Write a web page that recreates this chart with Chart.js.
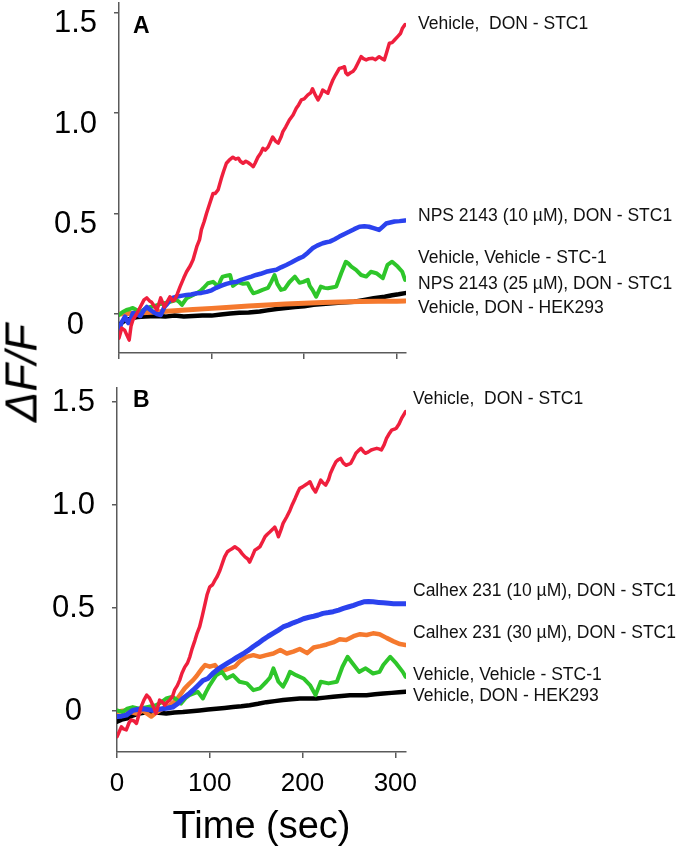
<!DOCTYPE html>
<html>
<head>
<meta charset="utf-8">
<script src="https://cdn.jsdelivr.net/npm/chart.js@4/dist/chart.umd.min.js"></script>
<style>
html,body{margin:0;padding:0;background:#fff;width:679px;height:853px;overflow:hidden;position:relative;font-family:"Liberation Sans",Arial,sans-serif;}
canvas{position:absolute;left:0;}
#cA{top:0;}
#cB{top:370px;}
.lbl{position:absolute;font-size:17.5px;line-height:20px;white-space:pre;color:#111;}
.panel{position:absolute;font-weight:bold;font-size:23px;line-height:26px;color:#000;}
#ytitle{position:absolute;font-style:italic;font-size:45px;line-height:1;left:21px;top:373px;transform:translate(-50%,-50%) rotate(-90deg);white-space:nowrap;color:#000;}
</style>
</head>
<body>
<canvas id="cA" width="679" height="362"></canvas>
<canvas id="cB" width="679" height="483"></canvas>
<div class="panel" style="left:133px;top:12px;">A</div>
<div class="panel" style="left:133px;top:386px;">B</div>
<div id="ytitle">ΔF/F</div>
<div id="labels"></div>
<script>
// ---------- tick values / labels ----------
const yTickValues = [0, 0.5, 1, 1.5];
const yTickLabels = ['0', '0.5', '1.0', '1.5'];
const xTickValues = [0, 100, 200, 300];
const xTickLabels = ['0', '100', '200', '300'];

// ---------- series labels ----------
const labelsA = ['Vehicle,  DON - STC1', 'NPS 2143 (10 µM), DON - STC1', 'Vehicle, Vehicle - STC-1', 'NPS 2143 (25 µM), DON - STC1', 'Vehicle, DON - HEK293'];
const labelsB = ['Vehicle,  DON - STC1', 'Calhex 231 (10 µM), DON - STC1', 'Calhex 231 (30 µM), DON - STC1', 'Vehicle, Vehicle - STC-1', 'Vehicle, DON - HEK293'];

// ---------- Panel A data: [time (sec), dF/F] ----------
const redA = [[0,-0.12],[3,-0.07],[6,-0.08],[9,-0.11],[11,-0.13],[13,-0.06],[15,-0.03],[19,0.0],[23,0.035],[27,0.07],[30,0.08],[33,0.065],[35,0.06],[38,0.04],[41,0.02],[45,0.08],[49,0.035],[52,0.06],[55,0.086],[58,0.065],[60,0.07],[63,0.1],[66,0.136],[70,0.18],[73,0.21],[77,0.24],[80,0.27],[84,0.335],[87,0.37],[89,0.42],[92,0.46],[94.5,0.5],[98,0.55],[101.6,0.6],[104,0.6],[107,0.617],[110.6,0.675],[113,0.71],[116,0.75],[119,0.765],[123,0.78],[126,0.77],[129,0.775],[131,0.76],[134,0.75],[137,0.76],[139,0.755],[142,0.745],[145,0.733],[147,0.75],[150,0.78],[153,0.8],[155.5,0.824],[158,0.815],[161,0.83],[163,0.85],[166,0.88],[169,0.86],[172,0.85],[175,0.88],[177,0.907],[180,0.93],[184,0.965],[188,0.99],[191.5,1.023],[194,1.04],[197,1.065],[200,1.07],[204,1.09],[207,1.1],[209,1.12],[212,1.09],[215,1.065],[218,1.09],[220,1.114],[223,1.105],[225.6,1.098],[228,1.13],[231,1.164],[234,1.19],[238,1.222],[241,1.225],[243.5,1.23],[245,1.2],[247,1.19],[250,1.2],[252.5,1.206],[255,1.22],[258,1.247],[261.5,1.28],[264,1.27],[267,1.264],[270,1.27],[274,1.272],[277,1.265],[281,1.28],[284,1.27],[286.6,1.264],[289,1.3],[292,1.347],[295,1.35],[297.6,1.363],[301,1.38],[304,1.395],[306,1.42],[309,1.44]];
const blueA = [[0,-0.08],[3,-0.04],[6.5,-0.013],[10,-0.045],[13,-0.02],[15,0.005],[19,0.0],[23,-0.01],[27,0.02],[30,0.035],[34,0.02],[37,0.01],[41,0.0],[45,-0.005],[49,0.035],[52,0.05],[55,0.07],[58,0.08],[62,0.086],[67,0.09],[73,0.095],[78,0.097],[84,0.103],[89,0.105],[94.5,0.11],[100,0.118],[105,0.13],[110,0.14],[116,0.15],[121,0.156],[127,0.16],[132,0.17],[137.6,0.178],[143,0.186],[148,0.194],[153,0.2],[159,0.21],[164,0.215],[170,0.22],[175,0.232],[180.7,0.244],[186,0.256],[191.5,0.27],[195,0.278],[198.6,0.285],[204,0.305],[209,0.327],[214,0.34],[220,0.352],[224,0.357],[227.6,0.36],[233,0.372],[238,0.385],[243,0.397],[249,0.41],[254,0.422],[259.7,0.434],[265,0.436],[270,0.434],[275,0.427],[281,0.418],[285,0.435],[288.5,0.45],[293,0.455],[297.6,0.46],[303,0.462],[309,0.465]];
const greenA = [[0,-0.005],[4,0.01],[8,0.02],[12,0.025],[15,0.03],[19,0.02],[23,0.01],[28,0.025],[34,0.035],[39,0.04],[45,0.05],[50,0.055],[55,0.06],[59,0.065],[62,0.07],[65,0.06],[68,0.045],[71,0.065],[73,0.078],[78,0.09],[84,0.103],[88,0.115],[91,0.128],[96,0.153],[101.6,0.16],[104,0.15],[107,0.136],[110,0.17],[112,0.186],[116,0.19],[120,0.194],[123,0.14],[126,0.15],[129,0.158],[134,0.15],[139,0.153],[142,0.125],[145,0.103],[150,0.11],[155,0.12],[161,0.13],[164.5,0.16],[168,0.194],[171,0.15],[175,0.12],[179,0.125],[184,0.158],[190,0.186],[195,0.155],[199,0.16],[204,0.17],[206,0.14],[209,0.12],[213,0.086],[218,0.136],[222,0.13],[225.6,0.128],[230,0.132],[234.6,0.136],[240,0.203],[245,0.26],[248,0.25],[251,0.236],[256,0.22],[261.5,0.194],[267,0.186],[272,0.21],[278,0.203],[285,0.178],[290,0.244],[295,0.26],[301,0.236],[306,0.21],[309,0.17]];
const orangeA = [[0,0.0],[20,0.005],[40,0.01],[60,0.016],[80,0.022],[100,0.028],[120,0.034],[140,0.04],[160,0.045],[180,0.05],[200,0.054],[220,0.057],[240,0.06],[260,0.062],[280,0.063],[300,0.064],[309,0.065]];
const blackA = [[0,-0.055],[4,-0.04],[8,-0.03],[14,-0.02],[20,-0.015],[28,-0.013],[40,-0.01],[50,-0.013],[60,-0.008],[70,-0.012],[80,-0.01],[90,-0.008],[100,-0.008],[110,-0.002],[120,0.003],[130,0.006],[140,0.008],[152,0.012],[160,0.018],[170,0.025],[180,0.03],[190,0.035],[200,0.038],[210,0.046],[220,0.05],[230,0.054],[240,0.057],[254,0.061],[265,0.07],[275,0.078],[287,0.086],[295,0.093],[302,0.098],[309,0.104]];

// ---------- Panel B data: [time (sec), dF/F] ----------
const redB = [[0,-0.128],[4.7,-0.08],[7,-0.09],[10,-0.095],[13,-0.06],[15,-0.047],[18,-0.05],[21,-0.063],[23,-0.03],[26,0.017],[29,0.05],[32,0.074],[35,0.06],[37,0.042],[40,0.01],[42,-0.015],[46,0.05],[49,0.04],[51.5,0.025],[54,0.04],[57,0.05],[60,0.07],[62,0.098],[65,0.12],[67.6,0.147],[70,0.18],[73,0.21],[76,0.23],[78.5,0.26],[81,0.3],[84,0.34],[86,0.37],[89,0.405],[92,0.46],[95,0.52],[97,0.56],[100,0.6],[103,0.61],[105.6,0.632],[108,0.65],[111,0.68],[114,0.72],[116,0.745],[119,0.77],[121.5,0.778],[124,0.785],[127,0.794],[130,0.785],[132,0.778],[135,0.76],[138,0.745],[141,0.735],[143,0.72],[146,0.75],[148.6,0.778],[151,0.785],[154,0.794],[157,0.82],[159.5,0.843],[162,0.855],[165,0.867],[168,0.88],[170,0.89],[172,0.87],[174,0.843],[177,0.88],[179,0.908],[183,0.94],[186.5,0.972],[189,1.0],[192,1.029],[195,1.06],[197,1.078],[200,1.085],[203,1.094],[205,1.1],[208,1.11],[211,1.08],[214,1.06],[217,1.09],[219.6,1.118],[222,1.105],[225,1.094],[228,1.12],[230,1.15],[233,1.18],[236,1.207],[238,1.215],[241,1.223],[244,1.2],[247,1.19],[250,1.195],[252,1.2],[255,1.225],[257.5,1.248],[260,1.26],[263,1.272],[266,1.255],[268,1.248],[271,1.255],[274,1.264],[277,1.268],[280,1.272],[283,1.268],[285,1.264],[288,1.29],[290.5,1.32],[293,1.34],[296,1.36],[299,1.365],[301,1.37],[304,1.39],[306.7,1.417],[309,1.435],[311,1.45]];
const blueB = [[0,-0.03],[5,-0.028],[10,-0.023],[17,0.0],[22,0.004],[28,0.008],[33,0.004],[38,0.0],[44,0.004],[49,0.008],[55,0.012],[60,0.016],[66,0.035],[71,0.058],[77,0.078],[82,0.098],[87,0.12],[92.6,0.145],[98,0.155],[103.5,0.18],[109,0.2],[114,0.215],[120,0.232],[125,0.245],[130,0.26],[136,0.275],[141,0.29],[147,0.31],[152,0.325],[158,0.345],[163,0.36],[168.6,0.375],[174,0.39],[179,0.405],[185,0.415],[190,0.425],[196,0.435],[201,0.445],[207,0.452],[212,0.457],[217,0.463],[222,0.471],[228,0.475],[233,0.479],[239,0.487],[244,0.495],[250,0.503],[255,0.51],[261,0.52],[266,0.527],[271,0.528],[276,0.527],[282,0.524],[287,0.522],[293,0.52],[298,0.518],[304,0.518],[311,0.518]];
const orangeB = [[0,-0.007],[5,-0.003],[10,0.0],[15,-0.008],[21,-0.015],[25,-0.008],[28,0.0],[32,-0.015],[37,-0.03],[41,-0.015],[46,0.0],[51,0.012],[57,0.025],[64,0.05],[68,0.075],[73,0.107],[78,0.13],[82,0.147],[86,0.168],[89,0.187],[92,0.205],[95,0.22],[100,0.212],[105.6,0.22],[109,0.2],[111,0.187],[116,0.196],[121.5,0.204],[127,0.212],[132,0.236],[136,0.25],[139.5,0.26],[147,0.268],[154,0.26],[161,0.268],[168.6,0.276],[176,0.293],[183,0.276],[190,0.285],[197,0.298],[205,0.278],[212,0.305],[219,0.312],[226,0.32],[233,0.33],[240,0.345],[247,0.342],[255,0.36],[262,0.37],[269,0.366],[276,0.374],[283,0.37],[290.5,0.352],[298,0.335],[305,0.322],[311,0.317]];
const greenB = [[0,0.0],[6,-0.008],[11,0.008],[17,0.016],[24,0.008],[32,0.016],[42,0.025],[48,0.04],[53,0.058],[60,0.066],[65,0.05],[69,0.033],[74,0.06],[78,0.074],[87,0.09],[92.6,0.058],[96,0.09],[100,0.123],[104,0.15],[107,0.171],[113,0.187],[118,0.155],[125,0.171],[132,0.139],[140,0.131],[147,0.098],[154,0.107],[161,0.139],[165,0.16],[168.6,0.204],[174,0.139],[179,0.115],[183,0.15],[186.5,0.187],[193,0.171],[201,0.155],[208,0.123],[214,0.074],[219.6,0.139],[228,0.131],[237,0.139],[243,0.212],[248.5,0.26],[254,0.228],[261,0.187],[268,0.204],[276,0.179],[283,0.187],[287,0.22],[294.5,0.26],[301,0.228],[308,0.187],[311,0.163]];
const blackB = [[0,-0.055],[5,-0.045],[10,-0.04],[17,-0.025],[24,-0.015],[30,-0.01],[38,-0.008],[45,-0.012],[53,-0.015],[62,-0.01],[71,-0.008],[80,-0.004],[89,0.0],[98,0.004],[107,0.008],[116,0.012],[125,0.016],[134,0.02],[143,0.025],[152,0.032],[161,0.04],[170,0.045],[179,0.05],[188,0.054],[197,0.058],[206,0.058],[215,0.058],[224,0.062],[233,0.066],[242,0.07],[251,0.074],[260,0.074],[269,0.074],[278,0.078],[287,0.082],[296,0.085],[304,0.088],[311,0.09]];

// ---------- colours ----------
const RED = '#ef1f3d', BLUE = '#2b42ee', GREEN = '#2ec62a', ORANGE = '#f5792e', BLACK = '#000000';

function ds(arr, color, w) {
  return {
    data: arr.map(([x, y]) => ({x, y})),
    borderColor: color, backgroundColor: color,
    borderWidth: w, pointRadius: 0, tension: 0,
    borderJoinStyle: 'round', borderCapStyle: 'round', fill: false
  };
}

function makeChart(id, datasets, cfg) {
  const axisColor = '#5a5a5a';
  return new Chart(document.getElementById(id), {
    type: 'line',
    data: {datasets},
    options: {
      responsive: false, animation: false, devicePixelRatio: 1, events: [],
      layout: {padding: {top: cfg.padTop, right: 273, left: 0, bottom: 0}},
      plugins: {legend: {display: false}, tooltip: {enabled: false}, title: {display: false}},
      scales: {
        x: {
          type: 'linear', min: 0, max: cfg.xMax,
          afterBuildTicks: s => { s.ticks = xTickValues.map(v => ({value: v})); },
          afterFit: s => { s.height = cfg.xHeight; s.paddingLeft = 0; s.paddingRight = 0; },
          border: {display: true, color: axisColor, width: 1.5},
          grid: {drawOnChartArea: false, drawTicks: true, tickLength: 6, color: axisColor, lineWidth: 1.5},
          ticks: {
            display: cfg.xLabels, color: '#000', padding: 10, maxRotation: 0,
            font: {family: 'Liberation Sans, Arial, sans-serif', size: 26},
            callback: (v) => xTickLabels[xTickValues.indexOf(v)]
          },
          title: {
            display: cfg.xLabels, text: 'Time (sec)', color: '#000',
            font: {family: 'Liberation Sans, Arial, sans-serif', size: 38},
            padding: {top: 0, bottom: 3}
          }
        },
        y: {
          type: 'linear', min: cfg.yMin, max: cfg.yMax,
          afterBuildTicks: s => { s.ticks = yTickValues.map(v => ({value: v})); },
          afterFit: s => { s.width = cfg.yWidth; s.paddingTop = 0; s.paddingBottom = 0; },
          border: {display: true, color: axisColor, width: 1.5},
          grid: {drawOnChartArea: false, drawTicks: true, tickLength: 5, color: axisColor, lineWidth: 1.5},
          ticks: {
            color: '#000', padding: 17, crossAlign: 'center', labelOffset: cfg.labelOffset,
            font: {family: 'Liberation Sans, Arial, sans-serif', size: 31},
            callback: (v) => yTickLabels[yTickValues.indexOf(v)]
          }
        }
      }
    }
  });
}

makeChart('cA', [
  ds(redA, RED, 3.5), ds(blueA, BLUE, 4.5), ds(greenA, GREEN, 4), ds(orangeA, ORANGE, 5), ds(blackA, BLACK, 4.5)
], {padTop: 3, xMax: 310, xHeight: 9, xLabels: false, yMin: -0.194, yMax: 1.547, yWidth: 119, labelOffset: 11});

makeChart('cB', [
  ds(redB, RED, 3.5), ds(blueB, BLUE, 5), ds(greenB, GREEN, 4), ds(orangeB, ORANGE, 4.5), ds(blackB, BLACK, 4.5)
], {padTop: 18, xMax: 311.5, xHeight: 101, xLabels: true, yMin: -0.202, yMax: 1.565, yWidth: 117, labelOffset: 1});

// ---------- series labels at right ----------
const labelYA = [23, 215, 257, 283, 307];
const labelYB = [398, 590, 632, 674, 695];
const holder = document.getElementById('labels');
function addLabels(texts, ys, left) {
  texts.forEach((t, i) => {
    const d = document.createElement('div');
    d.className = 'lbl';
    d.textContent = t;
    d.style.left = left + 'px';
    d.style.top = (ys[i] - 10) + 'px';
    holder.appendChild(d);
  });
}
addLabels(labelsA, labelYA, 418);
addLabels(labelsB, labelYB, 413);
</script>
</body>
</html>
